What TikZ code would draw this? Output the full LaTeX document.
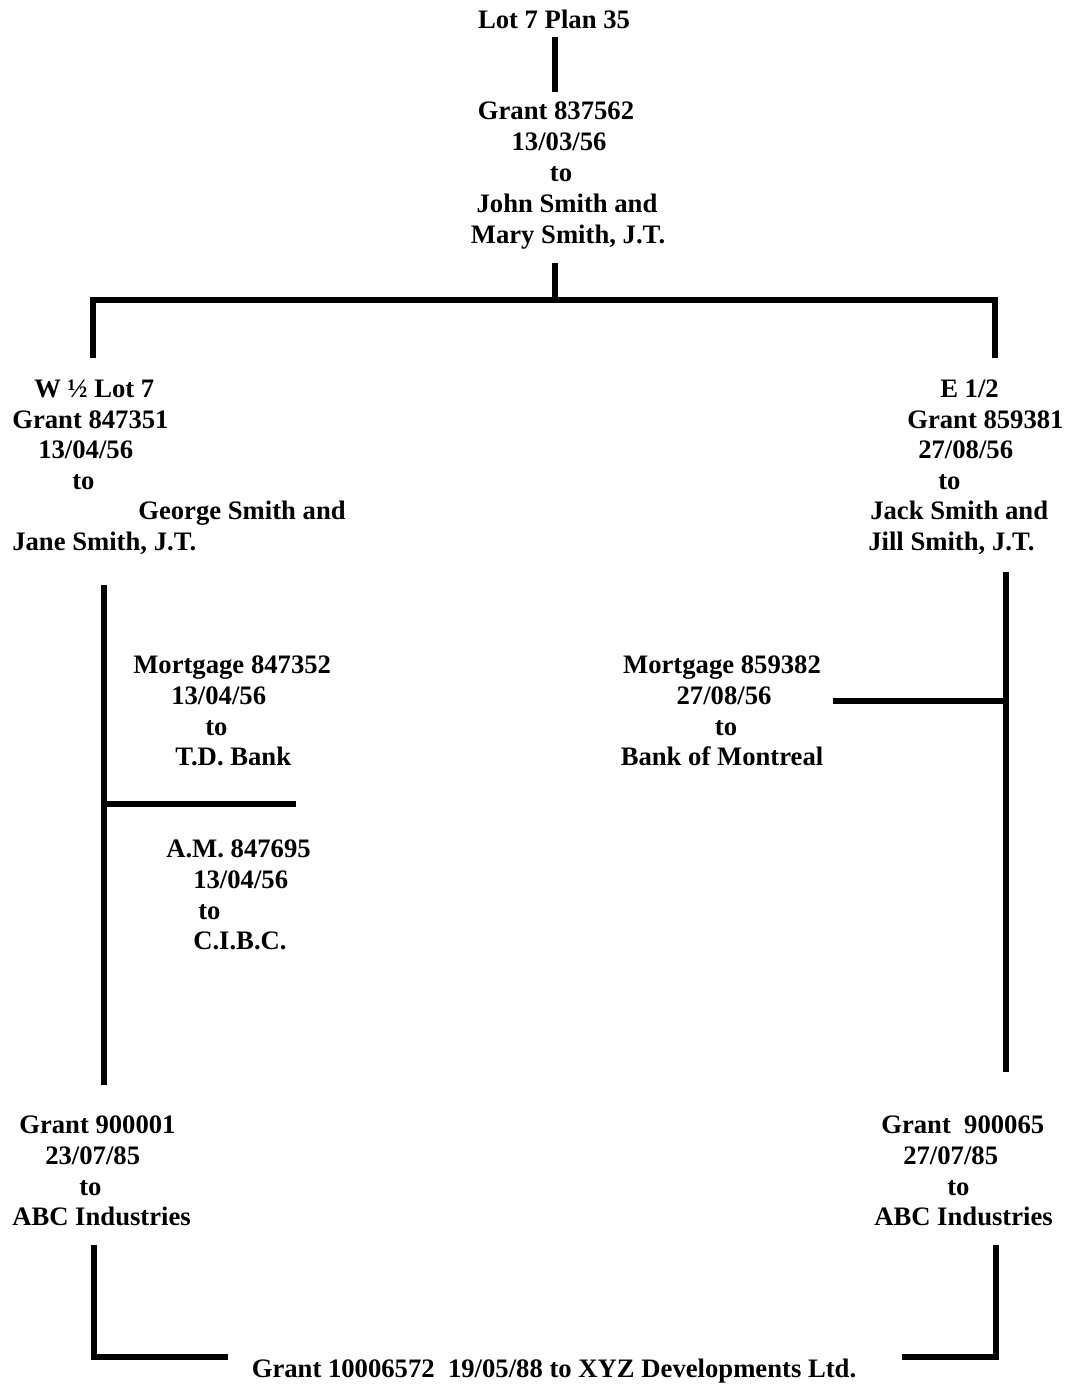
\documentclass[tikz,border=0pt]{standalone}
\usepackage{fontspec}
\setmainfont{Liberation Serif}
\begin{document}
\begin{tikzpicture}[x=0.75pt,y=-0.75pt,
  txt/.style={anchor=base west,inner sep=0pt,font=\fontsize{20pt}{23pt}\selectfont\bfseries},
  ctxt/.style={anchor=base,inner sep=0pt,font=\fontsize{20pt}{23pt}\selectfont\bfseries},
  bar/.style={line width=3.8pt}]
\useasboundingbox (0,0) rectangle (1066,1385);
% top
\node[ctxt] (lot) at (554,28) {Lot 7 Plan 35};
\node[ctxt] (g1a) at (556,119) {Grant 837562};
\node[ctxt] (g1b) at (559,150) {13/03/56};
\node[ctxt] (g1c) at (561,181) {to};
\node[ctxt] (g1d) at (567,212) {John Smith and};
\node[ctxt] (g1e) at (568,243) {Mary Smith, J.T.};
\coordinate (c1) at (555,37);
\coordinate (c2) at (555,92);
\coordinate (c3) at (555,263);
\coordinate (c4) at (555,300);
\coordinate (hl) at (93,300);
\coordinate (hr) at (995,300);
\coordinate (hlb) at (93,358);
\coordinate (hrb) at (995,358);
\draw[bar] (c1) -- (c2);
\draw[bar] (c3) -- (c4);
\draw[bar] (hlb) -- (hl) -- (hr) -- (hrb);
% left block
\node[txt] (wa) at (34,397) {W ½ Lot 7};
\node[txt] (wb) at (12,428) {Grant 847351};
\node[txt] (wc) at (38,458) {13/04/56};
\node[txt] (wd) at (72,489) {to};
\node[txt] (we) at (138,519) {George Smith and};
\node[txt] (wf) at (12,550) {Jane Smith, J.T.};
% right block
\node[txt] (ea) at (940,397) {E 1/2};
\node[txt] (eb) at (907,428) {Grant 859381};
\node[txt] (ec) at (918,458) {27/08/56};
\node[txt] (ed) at (938,489) {to};
\node[txt] (ee) at (870,519) {Jack Smith and};
\node[txt] (ef) at (868,550) {Jill Smith, J.T.};
% left vertical with mortgages
\coordinate (lv1) at (104,585);
\coordinate (lv2) at (104,1085);
\coordinate (lm) at (104,804);
\coordinate (lme) at (296,804);
\draw[bar] (lv1) -- (lv2);
\draw[bar] (lm) -- (lme);
\node[txt] (ma) at (133,673) {Mortgage 847352};
\node[txt] (mb) at (171,704) {13/04/56};
\node[txt] (mc) at (205,735) {to};
\node[txt] (md) at (175,765) {T.D. Bank};
\node[txt] (aa) at (166,857) {A.M. 847695};
\node[txt] (ab) at (193,888) {13/04/56};
\node[txt] (ac) at (198,919) {to};
\node[txt] (ad) at (193,949) {C.I.B.C.};
% right vertical with mortgage
\coordinate (rv1) at (1006,572);
\coordinate (rv2) at (1006,1072);
\coordinate (rm) at (1006,701);
\coordinate (rme) at (833,701);
\draw[bar] (rv1) -- (rv2);
\draw[bar] (rm) -- (rme);
\node[ctxt] (na) at (722,673) {Mortgage 859382};
\node[ctxt] (nb) at (724,704) {27/08/56};
\node[ctxt] (nc) at (726,735) {to};
\node[ctxt] (nd) at (722,765) {Bank of Montreal};
% bottom grants
\node[txt] (pa) at (19,1133) {Grant 900001};
\node[txt] (pb) at (45,1164) {23/07/85};
\node[txt] (pc) at (79,1195) {to};
\node[txt] (pd) at (12,1225) {ABC Industries};
\node[txt] (qa) at (881,1133) {Grant\ \ 900065};
\node[txt] (qb) at (903,1164) {27/07/85};
\node[txt] (qc) at (947,1195) {to};
\node[txt] (qd) at (874,1225) {ABC Industries};
% final bracket
\coordinate (bl1) at (94,1245);
\coordinate (bl2) at (94,1357);
\coordinate (bl3) at (228,1357);
\coordinate (br1) at (996,1245);
\coordinate (br2) at (996,1357);
\coordinate (br3) at (902,1357);
\draw[bar] (bl1) -- (bl2) -- (bl3);
\draw[bar] (br1) -- (br2) -- (br3);
\node[ctxt] (fin) at (554,1377) {Grant 10006572\ \ 19/05/88 to XYZ Developments Ltd.};
\end{tikzpicture}
\end{document}
